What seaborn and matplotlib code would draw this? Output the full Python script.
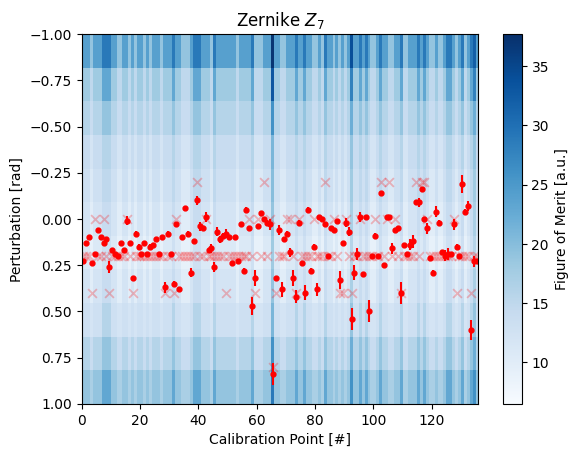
import numpy as np
import matplotlib
matplotlib.use("Agg")
import matplotlib.pyplot as plt
import seaborn as sns

# perturbation values of the scan (rows of the map), rad
perturbation = [-1.0, -0.8, -0.6, -0.4, -0.2, 0.0, 0.2, 0.4, 0.6, 0.8, 1.0]
n_points = 136

# figure of merit, one string per perturbation row, one character per
# calibration point; value = 6 + base-36 digit of the character
fom_rows = [
    # -1.0
    "IIIDIIINNNIIDDIIDIDIIDIDI" "IIDIIINIIDDDINNNIIIDNIII" "IIIIDIIIINDDDIIIVIIDDIII"
    "NIINIIDDIDNIIDIDIDISIINI" "NIDDINIIDDIINDDIIININIDD" "IDDINNIDINDINQI",
    # -0.8
    "CCC9CCCHHHCC99CC9C9CC9C9C" "CC9CCCHCC999CHHHCCC9HCCC" "CCCC9CCCCH999CCCRCC99CCC"
    "HCCHCC99C9HCC9C9C9CMCCHC" "HC99CHCC99CCH99CCCHCHC99" "C99CHHC9CH9CHMC",
    # -0.6
    "AAA8AAADDDAA88AA8A8AA8A8A" "AA8AAADAA888ADDDAAA8DAAA" "AAAA8AAAAD888AAAKAA88AAA"
    "DAADAA88A8DAA8A8A8AGAADA" "DA88ADAA88AAD88AAADADA88" "A88ADDA8AD8ADGA",
    # -0.4
    "8886888AAA886688686886868" "886888A886668AAA8886A888" "888868888A666888F8866888"
    "A88A886686A88686868D88A8" "A8668A886688A66888A8A866" "8668AA868A68AD8",
    # -0.2
    "7775777999775577575775757" "775777977555799977759777" "7777577779555777E7755777"
    "9779775575977575757C7797" "975579775577955777979755" "7557997579579C7",
    # 0.0
    "6664666888664466464664646" "664666866444688866648666" "6666466668444666D6644666"
    "8668664464866464646B6686" "864468664466844666868644" "6446886468468B6",
    # 0.2
    "5553555777553355353553535" "553555755333577755537555" "5555355557333555C5533555"
    "7557553353755353535A5575" "753357553355733555757533" "5335775357357A5",
    # 0.4
    "6664666888664466464664646" "664666866444688866648666" "6666466668444666D6644666"
    "8668664464866464646B6686" "864468664466844666868644" "6446886468468B6",
    # 0.6
    "7776777AAA776677676776767" "776777A776667AAA7776A777" "777767777A666777F7766777"
    "A77A776676A77676767D77A7" "A7667A776677A66777A7A766" "7667AA767A67AD7",
    # 0.8
    "AAA8AAADDDAA88AA8A8AA8A8A" "AA8AAADAA888ADDDAAA8DAAA" "AAAA8AAAAD888AAAKAA88AAA"
    "DAADAA88A8DAA8A8A8AGAADA" "DA88ADAA88AAD88AAADADA88" "A88ADDA8AD8ADGA",
    # 1.0
    "DDDBDDDHHHDDBBDDBDBDDBDBD" "DDBDDDHDDBBBDHHHDDDBHDDD" "DDDDBDDDDHBBBDDDNDDBBDDD"
    "HDDHDDBBDBHDDBDBDBDKDDHD" "HDBBDHDDBBDDHBBDDDHDHDBB" "DBBDHHDBDHBDHKD",
]

# fitted optimum per calibration point and its uncertainty, rad
fit_pos = [
    0.23, 0.13, 0.10, 0.24, 0.19, 0.06, 0.10, 0.13, 0.11, 0.26,
    0.17, 0.19, 0.20, 0.13, 0.17, 0.01, 0.13, 0.32, 0.08, 0.15,
    0.19, 0.13, 0.19, 0.15, 0.14, 0.11, 0.19, 0.10, 0.37, 0.08,
    0.19, 0.35, 0.03, 0.38, 0.10, -0.06, 0.08, 0.29, 0.12, -0.10,
    0.04, 0.05, -0.01, 0.17, 0.16, 0.26, 0.07, 0.11, 0.09, 0.08,
    0.10, 0.24, 0.10, 0.23, 0.03, 0.28, -0.05, 0.05, 0.47, 0.32,
    0.04, -0.03, 0.00, 0.02, 0.03, 0.84, 0.32, 0.06, 0.38, 0.11,
    0.08, 0.18, 0.32, 0.42, 0.02, 0.24, 0.40, -0.05, 0.28, 0.15,
    0.38, -0.01, 0.00, 0.03, 0.20, 0.05, 0.06, 0.01, 0.33, 0.13,
    0.02, 0.07, 0.54, 0.29, 0.19, -0.01, 0.30, -0.01, 0.50, 0.20,
    0.09, 0.20, -0.14, 0.25, -0.01, -0.01, 0.16, 0.06, 0.05, 0.40,
    0.14, 0.19, 0.14, 0.12, -0.09, -0.09, -0.16, 0.00, 0.05, 0.21,
    0.29, -0.04, 0.02, 0.18, 0.20, 0.19, 0.19, 0.03, 0.15, 0.20,
    -0.19, -0.04, -0.07, 0.60, 0.23, 0.23,
]
fit_err = [
    0.012, 0.012, 0.012, 0.012, 0.012, 0.012, 0.012, 0.012, 0.012, 0.035,
    0.012, 0.012, 0.012, 0.012, 0.012, 0.025, 0.012, 0.012, 0.012, 0.012,
    0.012, 0.012, 0.012, 0.012, 0.012, 0.012, 0.012, 0.012, 0.030, 0.012,
    0.012, 0.012, 0.012, 0.012, 0.012, 0.012, 0.012, 0.025, 0.012, 0.025,
    0.025, 0.012, 0.025, 0.012, 0.025, 0.025, 0.025, 0.020, 0.012, 0.025,
    0.012, 0.012, 0.012, 0.012, 0.012, 0.012, 0.012, 0.012, 0.050, 0.045,
    0.012, 0.012, 0.012, 0.012, 0.030, 0.060, 0.012, 0.025, 0.040, 0.012,
    0.012, 0.025, 0.045, 0.035, 0.012, 0.012, 0.040, 0.012, 0.012, 0.012,
    0.035, 0.012, 0.012, 0.012, 0.012, 0.012, 0.012, 0.012, 0.050, 0.012,
    0.025, 0.025, 0.060, 0.040, 0.030, 0.025, 0.012, 0.012, 0.060, 0.012,
    0.012, 0.012, 0.012, 0.012, 0.012, 0.012, 0.030, 0.012, 0.012, 0.060,
    0.012, 0.012, 0.030, 0.035, 0.012, 0.025, 0.012, 0.012, 0.030, 0.012,
    0.012, 0.030, 0.012, 0.012, 0.030, 0.030, 0.012, 0.030, 0.012, 0.012,
    0.050, 0.012, 0.025, 0.055, 0.030, 0.012,
]

# best grid value per calibration point (maximum of the scan), rad
best_grid = [
    0.2, 0.2, 0.2, 0.4, 0.0, 0.2, 0.2, 0.0, 0.2, 0.4,
    0.2, 0.2, 0.2, 0.2, 0.2, 0.0, 0.2, 0.4, 0.2, 0.2,
    0.2, 0.2, 0.2, 0.2, 0.2, 0.2, 0.2, 0.2, 0.4, 0.2,
    0.2, 0.4, 0.0, 0.2, 0.2, 0.2, 0.2, 0.2, 0.2, -0.2,
    0.2, 0.2, 0.0, 0.2, 0.2, 0.2, 0.2, 0.2, 0.2, 0.4,
    0.2, 0.2, 0.2, 0.2, 0.2, 0.2, 0.2, 0.0, 0.2, 0.4,
    0.0, 0.2, -0.2, 0.2, 0.0, 0.8, 0.4, 0.2, 0.2, 0.2,
    0.0, 0.0, 0.2, 0.4, 0.0, 0.2, 0.2, 0.2, 0.2, 0.0,
    0.2, 0.2, 0.2, -0.2, 0.2, 0.2, 0.0, 0.2, 0.4, 0.4,
    0.0, 0.2, 0.4, 0.2, 0.2, 0.0, 0.2, 0.2, 0.2, 0.2,
    0.0, 0.2, -0.2, 0.2, 0.0, -0.2, 0.2, 0.0, 0.2, 0.4,
    0.2, 0.2, 0.2, 0.2, -0.2, 0.2, -0.2, -0.2, 0.0, 0.2,
    0.2, 0.2, 0.2, 0.2, 0.2, 0.2, 0.2, 0.0, 0.4, 0.2,
    0.2, 0.2, 0.2, 0.4, 0.2, 0.2,
]

fom = np.array([[6 + int(ch, 36) for ch in row] for row in fom_rows], dtype=float)
calib = np.arange(n_points) + 0.5

fig, ax = plt.subplots(figsize=(6.4, 4.8), dpi=100)

y_edges = np.linspace(perturbation[0], perturbation[-1], len(perturbation) + 1)
mesh = ax.pcolormesh(np.arange(n_points + 1), y_edges, fom,
                     cmap=sns.color_palette("Blues", as_cmap=True),
                     vmin=6.5, vmax=37.7)
cbar = fig.colorbar(mesh, ax=ax)
cbar.set_label("Figure of Merit [a.u.]")

sns.scatterplot(x=calib, y=best_grid, marker="x", color="red", alpha=0.25,
                s=40, linewidth=1.3, ax=ax)
ax.errorbar(calib, fit_pos, yerr=fit_err, fmt=".", color="red", ecolor="red",
            markersize=7)

ax.set_xlim(0, n_points)
ax.set_ylim(1, -1)
ax.set_title("Zernike $Z_7$")
ax.set_xlabel("Calibration Point [#]")
ax.set_ylabel("Perturbation [rad]")

fig.savefig("out.png", dpi=100, bbox_inches="tight")
plt.close()
